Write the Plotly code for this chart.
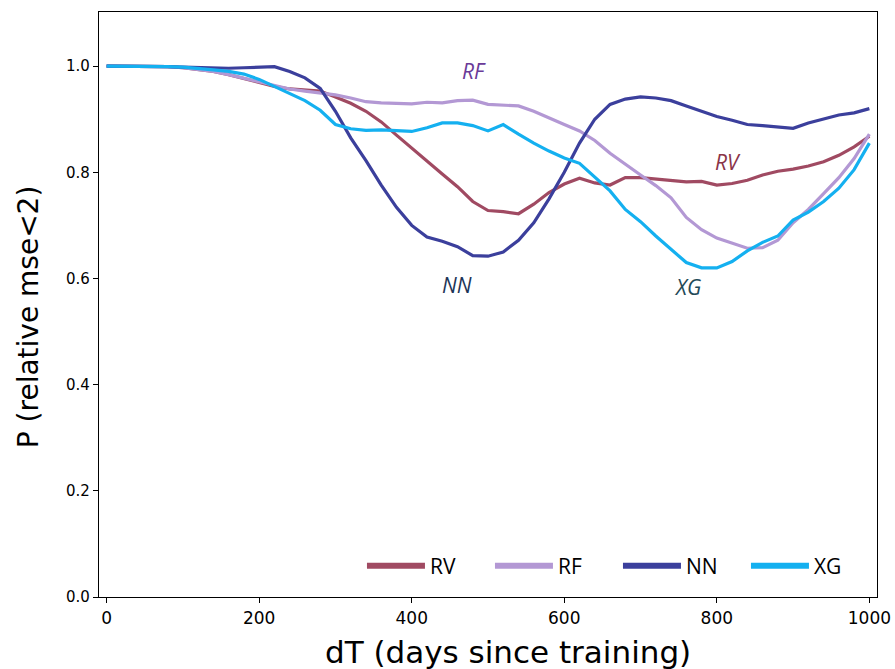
import plotly.graph_objects as go

days = list(range(0, 1001, 20))

rv = [1.0, 1.0, 1.0, 1.0, 0.999, 0.997, 0.994, 0.99, 0.984, 0.977, 0.97, 0.962, 0.957,
      0.955, 0.953, 0.942, 0.93, 0.915, 0.895, 0.87, 0.845, 0.822, 0.797, 0.773, 0.745,
      0.728, 0.726, 0.722, 0.74, 0.762, 0.778, 0.789, 0.78, 0.776, 0.79, 0.79, 0.787,
      0.785, 0.782, 0.783, 0.776, 0.779, 0.785, 0.795, 0.802, 0.806, 0.812, 0.82, 0.832,
      0.848, 0.868]
rf = [1.0, 1.0, 1.0, 1.0, 0.999, 0.997, 0.994, 0.99, 0.984, 0.977, 0.97, 0.963, 0.957,
      0.953, 0.95, 0.946, 0.94, 0.933, 0.931, 0.93, 0.929, 0.932, 0.931, 0.935, 0.936,
      0.928, 0.926, 0.925, 0.915, 0.902, 0.89, 0.878, 0.86, 0.836, 0.815, 0.795, 0.775,
      0.752, 0.715, 0.692, 0.676, 0.666, 0.657, 0.658, 0.672, 0.705, 0.73, 0.76, 0.79,
      0.826, 0.872]
nn = [1.0, 1.0, 1.0, 1.0, 0.999, 0.998, 0.997, 0.996, 0.996, 0.997, 0.998, 0.999, 0.99,
      0.978, 0.958, 0.915, 0.865, 0.822, 0.776, 0.734, 0.70, 0.678, 0.67, 0.66, 0.643,
      0.642, 0.65, 0.672, 0.705, 0.75, 0.80, 0.855, 0.9, 0.928, 0.938, 0.942, 0.94, 0.935,
      0.925, 0.915, 0.905, 0.898, 0.89, 0.888, 0.886, 0.883, 0.893, 0.9, 0.908, 0.912,
      0.92]
xg = [1.0, 1.0, 1.0, 1.0, 0.999, 0.998, 0.996, 0.993, 0.99, 0.985, 0.975, 0.962, 0.948,
      0.935, 0.917, 0.89, 0.882, 0.879, 0.88, 0.879, 0.877, 0.884, 0.893, 0.893, 0.888,
      0.878, 0.89, 0.872, 0.855, 0.84, 0.827, 0.817, 0.79, 0.765, 0.73, 0.707, 0.68, 0.655,
      0.63, 0.62, 0.62, 0.632, 0.652, 0.668, 0.68, 0.71, 0.725, 0.745, 0.77, 0.805, 0.855]

names = ["RV", "RF", "NN", "XG"]
colors = ["#a04a62", "#b398d4", "#3b3f9c", "#14b0f0"]
series = [rv, rf, nn, xg]

labels = [
    ("RF", 482, 0.99, "#6a3a98"),
    ("RV", 814, 0.82, "#8a3448"),
    ("NN", 460, 0.588, "#1d3557"),
    ("XG", 761, 0.584, "#1f4a58"),
]

x_title = "dT (days since training)"
y_title = "P (relative mse<2)"

fig = go.Figure()
for name, col, ys in zip(names, colors, series):
    fig.add_trace(go.Scatter(x=days, y=ys, mode="lines", name=name, showlegend=False,
                             line=dict(color=col, width=3.2)))
for name, col in zip(names, colors):
    fig.add_trace(go.Scatter(x=[None], y=[None], mode="lines", name=name,
                             line=dict(color=col, width=6)))

for txt, x, y, col in labels:
    fig.add_annotation(x=x, y=y, text=txt, showarrow=False,
                       font=dict(family="Open Sans", size=21, color=col, style="italic"))

fig.add_annotation(text=x_title, xref="paper", yref="paper", x=0.526, y=-0.094,
                   xanchor="center", yanchor="middle", showarrow=False,
                   font=dict(family="DejaVu Sans", size=31, color="black"))
fig.add_annotation(text=y_title, xref="paper", yref="paper", x=-0.0913, y=0.48,
                   xanchor="center", yanchor="middle", textangle=-90, showarrow=False,
                   font=dict(family="DejaVu Sans", size=28, color="black"))

fig.update_layout(
    width=895, height=669,
    margin=dict(l=99, r=18, t=12, b=72),
    plot_bgcolor="white", paper_bgcolor="white",
    font=dict(family="DejaVu Sans", color="black"),
    legend=dict(orientation="h", x=0.338, y=0.053, xanchor="left", yanchor="middle",
                bgcolor="rgba(0,0,0,0)", font=dict(family="Open Sans", size=21),
                entrywidth=55, itemwidth=58),
    xaxis=dict(range=[-10, 1010], tickvals=[0, 200, 400, 600, 800, 1000], automargin=False,
               showline=True, linecolor="black", linewidth=1.2, mirror=True,
               ticks="outside", ticklen=5, tickcolor="black", showgrid=False, zeroline=False,
               tickfont=dict(family="DejaVu Sans", size=17)),
    yaxis=dict(range=[0, 1.102], tickvals=[0, 0.2, 0.4, 0.6, 0.8, 1.0], tickformat=".1f",
               automargin=False,
               showline=True, linecolor="black", linewidth=1.2, mirror=True,
               ticks="outside", ticklen=5, tickcolor="black", showgrid=False, zeroline=False,
               tickfont=dict(family="DejaVu Sans", size=15)),
)

fig.write_html("out.html")
